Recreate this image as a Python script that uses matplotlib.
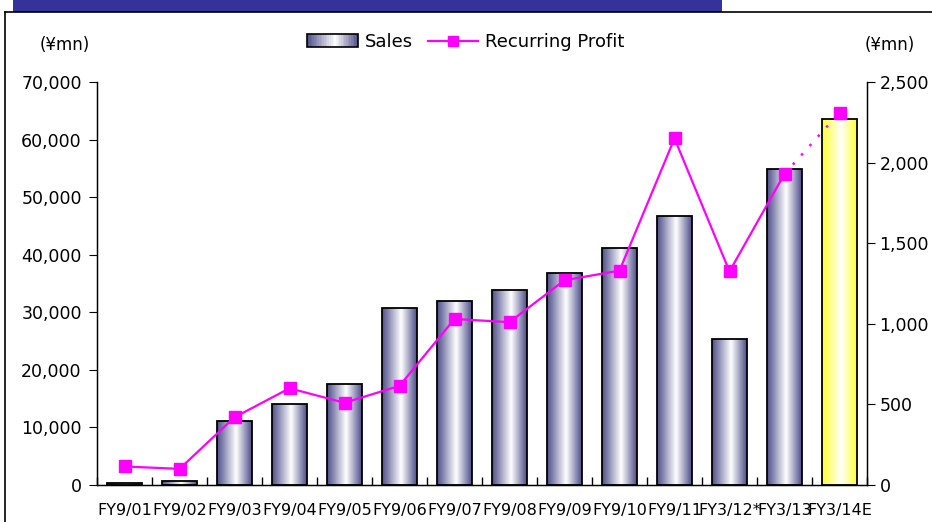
import numpy as np
import matplotlib
matplotlib.use("Agg")
import matplotlib.pyplot as plt
import matplotlib.ticker as ticker
from matplotlib.patches import Rectangle
from matplotlib.lines import Line2D
from matplotlib.legend_handler import HandlerBase
from matplotlib.colors import LinearSegmentedColormap

# ── data ─────────────────────────────────────────────────────────────────────
periods = ["FY9/01", "FY9/02", "FY9/03", "FY9/04", "FY9/05", "FY9/06", "FY9/07",
           "FY9/08", "FY9/09", "FY9/10", "FY9/11", "FY3/12*", "FY3/13", "FY3/14E"]
sales = [300, 700, 11200, 14000, 17600, 30800, 32000,
         33900, 36900, 41200, 46700, 25300, 54900, 63500]
profit = [115, 100, 420, 600, 510, 615, 1030,
          1010, 1270, 1330, 2150, 1325, 1930, 2310]
estimate_flags = [False] * 13 + [True]

plt.rcParams["font.family"] = ["DejaVu Sans"]

BLUE_CM = LinearSegmentedColormap.from_list(
    "bl", [(0.0, "#50508c"), (0.55, "#ffffff"), (1.0, "#50508c")])
YEL_CM = LinearSegmentedColormap.from_list(
    "yl", [(0.0, "#ffff33"), (0.55, "#ffffff"), (1.0, "#ffff33")])
MAGENTA = "#ff00ff"
grad = np.linspace(0, 1, 64).reshape(1, -1)

fig = plt.figure(figsize=(9.32, 5.22), dpi=100)

# banner + frame
fig.patches.append(Rectangle((13 / 932, 1 - 12 / 522), (722 - 13) / 932, 12 / 522,
                             transform=fig.transFigure, facecolor="#333399",
                             edgecolor="none"))
fig.lines.append(Line2D([5 / 932, 1.0], [1 - 12 / 522, 1 - 12 / 522],
                        transform=fig.transFigure, color="black", lw=1.2))
fig.lines.append(Line2D([5 / 932, 5 / 932], [0, 1 - 12 / 522],
                        transform=fig.transFigure, color="black", lw=1.2))

ax = fig.add_axes([97 / 932, 37 / 522, 770 / 932, 403 / 522])
ax2 = ax.twinx()

x = np.arange(len(periods))
bars = ax.bar(x, sales, width=0.63, facecolor="none", edgecolor="black",
              linewidth=1.3, zorder=3)
for b, est in zip(bars, estimate_flags):
    im = ax.imshow(grad, cmap=YEL_CM if est else BLUE_CM, aspect="auto",
                   extent=(b.get_x(), b.get_x() + b.get_width(), 0, b.get_height()),
                   zorder=2, interpolation="bicubic")
    im.set_clip_path(b)

ax.set_xlim(-0.5, len(periods) - 0.5)
ax.set_ylim(0, 70000)
ax.yaxis.set_major_locator(ticker.MultipleLocator(10000))
ax.yaxis.set_major_formatter(ticker.FuncFormatter(lambda v, p: f"{int(v):,}"))
ax.set_xticks(x)
ax.set_xticklabels(periods, fontsize=11.5)
ax.set_xticks(np.arange(len(periods) + 1) - 0.5, minor=True)
ax.tick_params(axis="x", which="major", length=0, pad=13)
ax.tick_params(axis="x", which="minor", length=6, direction="in", width=1)
ax.tick_params(axis="y", length=6, direction="out", labelsize=12.5, pad=5)

ax2.set_ylim(0, 2500)
ax2.yaxis.set_major_locator(ticker.MultipleLocator(500))
ax2.yaxis.set_major_formatter(ticker.FuncFormatter(lambda v, p: f"{int(v):,}"))
ax2.tick_params(axis="y", length=6, direction="out", labelsize=12.5, pad=3)

# recurring profit: solid for actuals, dotted into estimate
n_act = estimate_flags.index(True)
ax2.plot(x[:n_act], profit[:n_act], color=MAGENTA, lw=1.6, marker="s",
         markersize=8, zorder=5)
ax2.plot(x[n_act - 1:], profit[n_act - 1:], color=MAGENTA, lw=1.8, ls=(0, (1, 4)),
         zorder=5)
ax2.plot(x[n_act:], profit[n_act:], color=MAGENTA, lw=0, marker="s",
         markersize=8, zorder=5)

for a in (ax, ax2):
    a.spines["top"].set_visible(False)
for s in ("left", "right", "bottom"):
    ax2.spines[s].set_linewidth(1.0)

fig.text(40 / 932, 1 - 45 / 522, "(¥mn)", fontsize=12, va="center", ha="left")
fig.text(915 / 932, 1 - 45 / 522, "(¥mn)", fontsize=12, va="center", ha="right")


class GradHandler(HandlerBase):
    def create_artists(self, legend, orig, xd, yd, w, h, fontsize, trans):
        arts = []
        n = 30
        for i in range(n):
            r = Rectangle((xd + w * i / n, yd), w / n + 0.3, h,
                          facecolor=BLUE_CM((i + 0.5) / n), edgecolor="none",
                          transform=trans)
            arts.append(r)
        arts.append(Rectangle((xd, yd), w, h, facecolor="none",
                              edgecolor="black", lw=1.2, transform=trans))
        return arts


sales_handle = Rectangle((0, 0), 1, 1)
prof_handle = Line2D([], [], color=MAGENTA, lw=1.6, marker="s", markersize=7)
fig.legend([sales_handle, prof_handle], ["Sales", "Recurring Profit"],
           handler_map={Rectangle: GradHandler()}, loc="center",
           bbox_to_anchor=(466 / 932, 1 - 42 / 522), ncol=2, frameon=False,
           fontsize=13, handlelength=2.8, handletextpad=0.4, columnspacing=0.8)

fig.savefig("out.png", dpi=100)
